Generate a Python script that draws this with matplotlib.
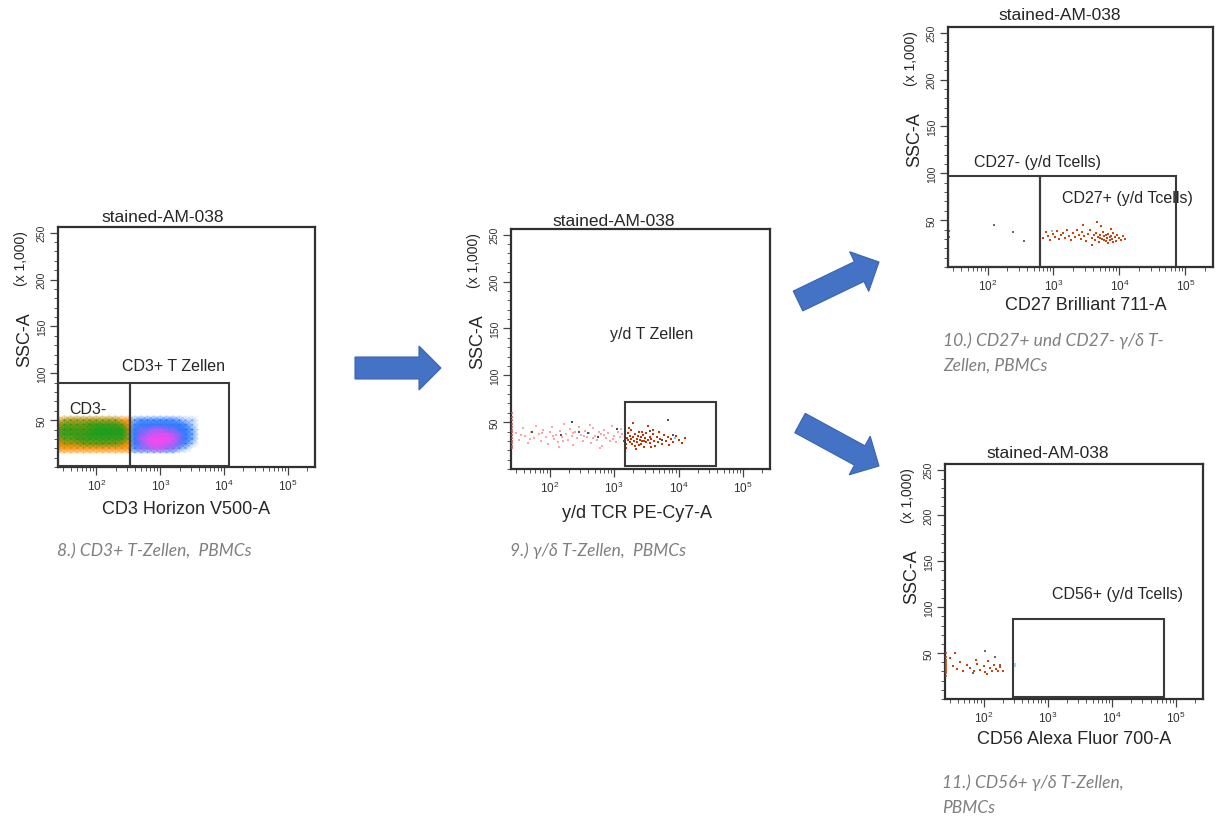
"""
Gating sequence for gamma/delta T cells (stained-AM-038): four SSC-A vs
marker dot plots with their gates, joined by block arrows.
"""

import numpy as np
import matplotlib

matplotlib.use("Agg")
import matplotlib.pyplot as plt
from matplotlib.colors import LinearSegmentedColormap, to_rgb
from matplotlib.patches import FancyArrow
from matplotlib.ticker import LogLocator, MultipleLocator, NullFormatter, FixedLocator
from matplotlib.transforms import IdentityTransform

W, H = 1216, 820
plt.rcParams["font.family"] = ["Liberation Sans", "DejaVu Sans"]

X_MIN, X_MAX = 10 ** 1.4, 10 ** 5.42
Y_MIN, Y_MAX = 0, 256
TEXT = "#262626"
GATE = "#3a3a3a"
CAPTION = "#7f7f7f"

# ---------------------------------------------------------------- data
# panel 8: density of the dense clouds, read by eye.
# columns: log10(CD3) 1.4 .. 3.6 in 0.1 steps, rows: SSC 55 .. 15 (x1000)
CD3_GRID_LOGX = np.round(np.arange(1.4, 3.65, 0.1), 2)
CD3_GRID_SSC = [55, 50, 45, 40, 35, 30, 25, 20, 15]
CD3_ORANGE = [
    "00000000000000000000000",
    "22333333333300000000000",
    "44444444444400000000000",
    "44444444444400000000000",
    "44444444444400000000000",
    "44444444444400000000000",
    "44444444444400000000000",
    "33333333333300000000000",
    "11111111111100000000000",
]
CD3_GREEN = [
    "00000000000000000000000",
    "01111111110000000000000",
    "12222333332000000000000",
    "23333344444100000000000",
    "23333444444100000000000",
    "12233333333100000000000",
    "01112222221000000000000",
    "00000000000000000000000",
    "00000000000000000000000",
]
CD3_BLUE = [
    "00000000000000000000000",
    "00000000000023333332110",
    "00000000000034444444310",
    "00000000000044444444420",
    "00000000000044444444420",
    "00000000000044444444420",
    "00000000000044444444310",
    "00000000000033333332100",
    "00000000000011111110000",
]
CD3_MAGENTA = [
    "00000000000000000000000",
    "00000000000000000000000",
    "00000000000000000000000",
    "00000000000001122110000",
    "00000000000001233321000",
    "00000000000002344431000",
    "00000000000001344321000",
    "00000000000001122110000",
    "00000000000000000000000",
]

# panel 9: gamma/delta TCR events (log10 x, SSC x1000)
GD_PINK_LOGX = [1.48, 1.52, 1.58, 1.62, 1.66, 1.71, 1.75, 1.79, 1.83, 1.86,
                1.90, 1.94, 1.97, 2.01, 2.04, 2.07, 2.10, 2.13, 2.16, 2.19,
                2.22, 2.25, 2.28, 2.31, 2.34, 2.37, 2.40, 2.43, 2.46, 2.49,
                2.52, 2.55, 2.58, 2.61, 2.64, 2.67, 2.70, 2.73, 2.76, 2.79,
                2.82, 2.85, 2.88, 2.91, 2.94, 2.97, 3.00, 3.03, 3.06, 3.09,
                3.12, 1.55, 1.69, 1.88, 2.05, 2.21, 2.36, 2.53, 2.68, 2.84,
                2.99, 3.10, 2.62, 2.15, 2.78]
GD_PINK_SSC = [38, 31, 44, 35, 28, 40, 33, 46, 37, 30,
               42, 34, 27, 39, 45, 32, 36, 29, 41, 34,
               48, 37, 31, 43, 35, 26, 39, 33, 45, 36,
               30, 41, 34, 38, 28, 44, 35, 31, 40, 37,
               25, 42, 33, 38, 30, 46, 35, 29, 40, 34,
               37, 36, 32, 38, 35, 30, 38, 35, 33, 36,
               32, 43, 47, 23, 22]
GD_RED_LOGX = [3.16, 3.17, 3.19, 3.20, 3.21, 3.22, 3.24, 3.25, 3.26, 3.27,
               3.28, 3.30, 3.31, 3.32, 3.33, 3.35, 3.36, 3.37, 3.38, 3.40,
               3.41, 3.42, 3.44, 3.45, 3.46, 3.48, 3.49, 3.50, 3.52, 3.53,
               3.55, 3.56, 3.58, 3.60, 3.62, 3.64, 3.66, 3.68, 3.70, 3.72,
               3.75, 3.77, 3.80, 3.83, 3.86, 3.89, 3.92, 3.96, 4.00, 4.05,
               4.10, 3.23, 3.29, 3.18, 3.34, 3.57, 3.43, 3.61, 3.39, 3.47]
GD_RED_SSC = [30, 35, 27, 33, 38, 31, 29, 35, 42, 32,
              27, 34, 30, 37, 25, 32, 29, 35, 40, 31,
              27, 34, 30, 36, 23, 33, 29, 38, 31, 46,
              34, 28, 32, 37, 30, 25, 34, 29, 40, 32,
              27, 36, 30, 34, 26, 32, 29, 35, 31, 28,
              33, 44, 49, 22, 21, 24, 40, 42, 26, 30]
GD_GRAY_LOGX = [1.72, 2.18, 2.35, 2.46, 2.60, 2.75, 3.05, 3.55, 3.75, 3.84, 3.92]
GD_GRAY_SSC = [40, 36, 50, 40, 38, 34, 43, 41, 31, 52, 36]
GD_EDGE_SSC = [22, 25, 28, 30, 33, 36, 39, 42, 45, 48, 52, 56, 60]

# panel 10: CD27 split
CD27_RED_LOGX = [2.80, 2.84, 2.88, 2.92, 2.95, 2.99, 3.02, 3.05, 3.08, 3.11,
                 3.14, 3.17, 3.20, 3.23, 3.26, 3.29, 3.32, 3.35, 3.38, 3.41,
                 3.44, 3.47, 3.50, 3.53, 3.56, 3.59, 3.61, 3.63, 3.65, 3.67,
                 3.69, 3.71, 3.73, 3.75, 3.77, 3.79, 3.81, 3.83, 3.85, 3.87,
                 3.89, 3.91, 3.93, 3.95, 3.97, 3.99, 4.02, 4.05, 4.08, 3.66,
                 3.72, 3.45, 3.88, 3.58, 3.82, 3.76, 3.86, 3.90, 3.70, 3.80]
CD27_RED_SSC = [34, 31, 37, 33, 29, 35, 32, 38, 30, 34,
                36, 31, 39, 33, 29, 36, 32, 40, 34, 30,
                37, 33, 28, 35, 39, 31, 34, 29, 36, 32,
                27, 34, 30, 37, 33, 28, 31, 35, 29, 33,
                30, 36, 32, 28, 34, 31, 29, 33, 30, 48,
                44, 45, 41, 24, 26, 29, 32, 27, 31, 34]
CD27_GRAY_LOGX = [2.10, 2.38, 2.56, 1.41, 1.41]
CD27_GRAY_SSC = [45, 37, 28, 32, 38]

# panel 11: CD56
CD56_RED_LOGX = [1.48, 1.52, 1.58, 1.63, 1.68, 1.74, 1.79, 1.85, 1.90, 1.95,
                 2.00, 2.03, 2.07, 2.10, 2.13, 2.16, 2.19, 2.22, 2.26, 2.30,
                 1.55, 1.88, 2.05]
CD56_RED_SSC = [45, 36, 33, 40, 30, 37, 34, 31, 38, 32,
                36, 29, 41, 34, 31, 37, 33, 30, 35, 31,
                50, 43, 27]
CD56_GRAY_LOGX = [2.02, 2.18, 1.83, 2.25]
CD56_GRAY_SSC = [52, 46, 28, 37]
CD56_EDGE_SSC = [25, 28, 30, 32, 34, 36, 38, 40, 43, 46, 50]

# gates: (x0, x1, y0, y1) with x in channel units, y in SSC x1000
CD3_GATES = [(X_MIN, 336, 1.5, 89.5), (336, 12000, 1.5, 89.5)]
GD_GATES = [(1480, 38000, 3, 71.5)]
CD27_GATES = [(X_MIN, 625, 0, 97), (625, 72500, 0, 97.5)]
CD56_GATES = [(288, 64500, 2, 87)]


# ---------------------------------------------------------------- helpers
def px_axes(left, top, right, bottom):
    return fig.add_axes([left / W, 1 - bottom / H, (right - left) / W, (bottom - top) / H])


def ftext(x, y, s, **kw):
    kw.setdefault("color", TEXT)
    kw.setdefault("ha", "center")
    kw.setdefault("va", "center")
    fig.text(x / W, 1 - y / H, s, **kw)


def style_axes(ax):
    ax.set_xscale("log")
    ax.set_xlim(X_MIN, X_MAX)
    ax.set_ylim(Y_MIN, Y_MAX)
    ax.xaxis.set_major_locator(FixedLocator([1e2, 1e3, 1e4, 1e5]))
    ax.xaxis.set_minor_locator(LogLocator(base=10, subs=np.arange(2, 10)))
    ax.xaxis.set_minor_formatter(NullFormatter())
    ax.yaxis.set_major_locator(FixedLocator([50, 100, 150, 200, 250]))
    ax.yaxis.set_minor_locator(MultipleLocator(10))
    ax.tick_params(which="major", direction="out", length=6, width=0.9,
                   color="#444444", labelsize=8.5, labelcolor="#333333", pad=2)
    ax.tick_params(which="minor", direction="out", length=3, width=0.7, color="#555555")
    for lab in ax.get_yticklabels():
        lab.set_rotation(90)
        lab.set_va("center")
        lab.set_fontsize(7.5)
    for sp in ax.spines.values():
        sp.set_linewidth(1.6)
        sp.set_color("#303030")


def density(ax, grid, color, z):
    rgb = to_rgb(color)
    cmap = LinearSegmentedColormap.from_list(color, [(*rgb, 0.0), (*rgb, 0.95)])
    vals = np.array([[int(c) for c in row] for row in grid], float)[::-1] / 4
    X, Y = np.meshgrid(10 ** CD3_GRID_LOGX, CD3_GRID_SSC[::-1])
    ax.pcolormesh(X, Y, vals, shading="gouraud", cmap=cmap, vmin=0, vmax=1, zorder=z)


def dots(ax, logx, ssc, color, s=3, alpha=1.0, z=3):
    ax.scatter(10 ** np.asarray(logx), ssc, s=s, c=color, marker="s",
               linewidths=0, alpha=alpha, zorder=z)


def gates(ax, boxes):
    for x0, x1, y0, y1 in boxes:
        ax.plot([x0, x1, x1, x0, x0], [y0, y0, y1, y1, y0], color=GATE,
                lw=1.5, zorder=5, solid_joinstyle="miter")


def labels(box, title_x, title_y, xlabel, xlabel_x, xlabel_y):
    left, top = box[0], box[1]
    ftext(title_x, title_y, "stained-AM-038", fontsize=12.5)
    ftext(xlabel_x, xlabel_y, xlabel, fontsize=13)
    ftext(left - 33, top + 112, "SSC-A", fontsize=13, rotation=90)
    ftext(left - 37, top + 31, "(x 1,000)", fontsize=10, rotation=90)


def caption(x, y, lines):
    for i, line in enumerate(lines):
        fig.text(x / W, 1 - (y + 25 * i) / H, line, ha="left", va="center",
                 fontsize=12.5, style="italic", color=CAPTION,
                 family=["Lato", "Open Sans", "DejaVu Sans"])


def block_arrow(x0, y0, x1, y1):
    arr = FancyArrow(x0, H - y0, x1 - x0, y0 - y1, width=22, head_width=44,
                     head_length=22, length_includes_head=True,
                     facecolor="#4472C4", edgecolor="#3A64B0", lw=0.8,
                     transform=IdentityTransform())
    fig.add_artist(arr)


fig = plt.figure(figsize=(W / 100, H / 100), dpi=100)

# ---------------------------------------------------------------- panel 8
B1 = (58, 228, 315, 468)
ax1 = px_axes(*B1)
style_axes(ax1)
density(ax1, CD3_ORANGE, "#FF8C00", 1)
density(ax1, CD3_GREEN, "#1E9E1E", 2)
density(ax1, CD3_BLUE, "#2F7BFF", 2)
density(ax1, CD3_MAGENTA, "#F04CF0", 3)
gates(ax1, CD3_GATES)
labels(B1, 163, 218, "CD3 Horizon V500-A", 186, 510)
ftext(174, 367, "CD3+ T Zellen", fontsize=11.5)
ftext(88, 410, "CD3-", fontsize=11.5)
caption(57, 551, ["8.) CD3+ T-Zellen,  PBMCs"])

# ---------------------------------------------------------------- panel 9
B2 = (511, 230, 770, 470)
ax2 = px_axes(*B2)
style_axes(ax2)
dots(ax2, GD_PINK_LOGX, GD_PINK_SSC, "#FF7F7F", s=3.5, alpha=0.7)
dots(ax2, GD_RED_LOGX, GD_RED_SSC, "#C83200", s=4.5)
dots(ax2, GD_GRAY_LOGX, GD_GRAY_SSC, "#505050", s=3.5)
dots(ax2, [3.95], [33], "#7EC8F0", s=4)
dots(ax2, [1.41] * len(GD_EDGE_SSC), GD_EDGE_SSC, "#E04040", s=3, alpha=0.7)
gates(ax2, GD_GATES)
labels(B2, 614, 221, "y/d TCR PE-Cy7-A", 637, 513)
ftext(652, 335, "y/d T Zellen", fontsize=11.5)
caption(510, 551, ["9.) γ/δ T-Zellen,  PBMCs"])

# ---------------------------------------------------------------- panel 10
B3 = (948, 28, 1213, 268)
ax3 = px_axes(*B3)
style_axes(ax3)
dots(ax3, CD27_RED_LOGX, CD27_RED_SSC, "#D2400E", s=4.5)
dots(ax3, CD27_GRAY_LOGX, CD27_GRAY_SSC, "#6a6a6a", s=3.5)
dots(ax3, [2.98], [38], "#7EC8F0", s=4)
gates(ax3, CD27_GATES)
labels(B3, 1060, 15, "CD27 Brilliant 711-A", 1086, 305)
ftext(1037, 163, "CD27- (y/d Tcells)", fontsize=11.5)
ftext(1127, 198, "CD27+ (y/d Tcells)", fontsize=11.5)
caption(943, 341, ["10.) CD27+ und CD27- γ/δ T-", "Zellen, PBMCs"])

# ---------------------------------------------------------------- panel 11
B4 = (945, 465, 1203, 700)
ax4 = px_axes(*B4)
style_axes(ax4)
dots(ax4, CD56_RED_LOGX, CD56_RED_SSC, "#D2400E", s=4)
dots(ax4, [1.41] * len(CD56_EDGE_SSC), CD56_EDGE_SSC, "#D2400E", s=4, alpha=0.8)
dots(ax4, CD56_GRAY_LOGX, CD56_GRAY_SSC, "#6a6a6a", s=3.5)
dots(ax4, [2.47], [37], "#9ED8F8", s=5)
gates(ax4, CD56_GATES)
labels(B4, 1048, 454, "CD56 Alexa Fluor 700-A", 1074, 740)
ftext(1117, 595, "CD56+ (y/d Tcells)", fontsize=11.5)
caption(942, 783, ["11.) CD56+ γ/δ T-Zellen,", "PBMCs"])

# ---------------------------------------------------------------- arrows
block_arrow(355, 369, 441, 369)
block_arrow(798, 302, 879, 263)
block_arrow(800, 424, 879, 467)

fig.savefig("out.png", dpi=100)
